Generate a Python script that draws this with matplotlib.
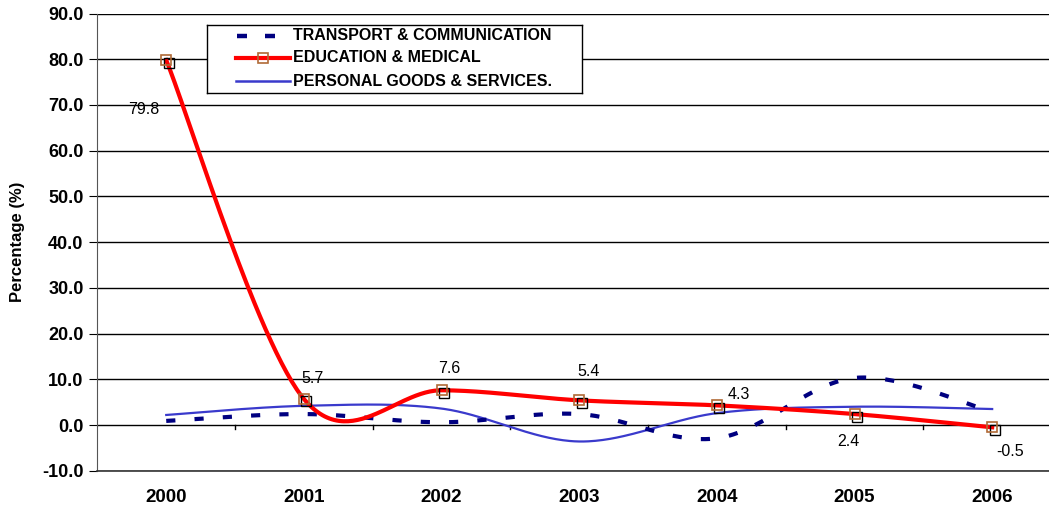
import numpy as np
import matplotlib
matplotlib.use("Agg")
import matplotlib.pyplot as plt
import matplotlib.transforms as mtransforms

years = ["2000", "2001", "2002", "2003", "2004", "2005", "2006"]
transport = [0.9, 2.4, 0.6, 2.4, -2.9, 10.3, 2.9]
education = [79.8, 5.7, 7.6, 5.4, 4.3, 2.4, -0.5]
personal = [2.2, 4.2, 3.6, -3.6, 2.6, 4.0, 3.5]
edu_labels = ["79.8", "5.7", "7.6", "5.4", "4.3", "2.4", "-0.5"]
series_names = ["TRANSPORT & COMMUNICATION", "EDUCATION & MEDICAL", "PERSONAL GOODS & SERVICES."]
yticks = [-10, 0, 10, 20, 30, 40, 50, 60, 70, 80, 90]

plt.rcParams['font.family'] = ['Liberation Sans', 'DejaVu Sans']

C_TR, C_ED, C_PE, C_MK = '#000080', '#ff0000', '#3a3acc', '#b06a36'
DASH = (0, (2.2, 4.6))


def smooth(xs, ys, n=60):
    """Excel-style smoothed line: Catmull-Rom via cubic Bezier segments."""
    P = np.column_stack([xs, ys]).astype(float)
    ext = np.vstack([P[0], P, P[-1]])
    out = []
    t = np.linspace(0, 1, n)[:, None]
    for i in range(len(P) - 1):
        p0, p1, p2, p3 = ext[i], ext[i + 1], ext[i + 2], ext[i + 3]
        c1 = p1 + (p2 - p0) / 6.0
        c2 = p2 - (p3 - p1) / 6.0
        seg = ((1 - t) ** 3) * p1 + 3 * ((1 - t) ** 2) * t * c1 + 3 * (1 - t) * t ** 2 * c2 + t ** 3 * p2
        out.append(seg if i == 0 else seg[1:])
    arr = np.vstack(out)
    return arr[:, 0], arr[:, 1]


fig = plt.figure(figsize=(10.49, 5.08), dpi=100)
W, H = 1049, 508
left_px, right_px = 97.4, 1061.0
top_px, bot_px = 13.5, 470.75
ax = fig.add_axes([left_px / W, 1 - bot_px / H, (right_px - left_px) / W, (bot_px - top_px) / H])

x = np.arange(len(years))
ax.set_xlim(-0.5, len(years) - 0.5)
ax.set_ylim(-10, 90)
ax.set_yticks(yticks)
ax.set_yticklabels([f"{v:.1f}" for v in yticks])
ax.yaxis.grid(True, color='black', lw=1.0)
ax.set_axisbelow(True)

ax.set_xticks(x)
ax.set_xticklabels(years)
ax.tick_params(axis='x', length=0, pad=13, labelsize=13.5)
ax.tick_params(axis='y', length=6, direction='out', labelsize=13, pad=4)
for lab in ax.get_xticklabels() + ax.get_yticklabels():
    lab.set_fontweight('bold')
# category boundary tick marks on the zero line
for b in np.arange(0.5, len(years) - 1, 1.0):
    ax.plot([b, b], [0, -0.8], color='black', lw=1.0, zorder=1)

for s in ['top', 'right']:
    ax.spines[s].set_visible(False)
ax.spines['left'].set_color('#555555')
ax.spines['bottom'].set_color('#333333')
ax.spines['bottom'].set_linewidth(1.2)

ax.set_ylabel("Percentage (%)", fontsize=12, fontweight='bold', labelpad=12)

xs, ys = smooth(x, personal)
ax.plot(xs, ys, color=C_PE, lw=1.6, zorder=3)
xs, ys = smooth(x, transport)
ax.plot(xs, ys, color=C_TR, lw=3.0, ls=DASH, zorder=3, dash_capstyle='butt')
xs, ys = smooth(x, education)
ax.plot(xs, ys, color=C_ED, lw=3.0, zorder=4)

shadow = mtransforms.offset_copy(ax.transData, fig=fig, x=2.5, y=-2.5, units='dots')
ax.plot(x, education, ls='none', marker='s', ms=7, mfc='none', mec='black', mew=1.0,
        transform=shadow, zorder=4.5)
ax.plot(x, education, ls='none', marker='s', ms=7, mfc='none', mec=C_MK, mew=1.2, zorder=5)

offsets = [(-22, -49), (9, 20), (8, 22), (9, 29), (22, 11), (-6, -27), (18, -24)]
for xi, yi, lab, off in zip(x, education, edu_labels, offsets):
    ax.annotate(lab, (xi, yi), xytext=off, textcoords='offset pixels',
                ha='center', va='center', fontsize=11.5, zorder=6)

# legend box (drawn manually to match the original layout)
lx0, lx1, ly0, ly1 = 207, 582, 24.5, 93
lax = fig.add_axes([lx0 / W, 1 - ly1 / H, (lx1 - lx0) / W, (ly1 - ly0) / H])
lax.set_xlim(lx0, lx1)
lax.set_ylim(ly1, ly0)
lax.set_xticks([])
lax.set_yticks([])
for s in lax.spines.values():
    s.set_color('black')
    s.set_linewidth(1.0)
lax.set_zorder(10)
rows = [35.5, 58, 81]
lax.plot([237, 275], [rows[0]] * 2, color=C_TR, lw=3.2, ls=(0, (2.25, 4.05)), dash_capstyle='butt')
lax.plot([236, 290], [rows[1]] * 2, color=C_ED, lw=3.0)
lax.plot([263], [rows[1]], marker='s', ms=7, mfc='none', mec=C_MK, mew=1.2)
lax.plot([236, 290], [rows[2]] * 2, color=C_PE, lw=1.8)
for r, name in zip(rows, series_names):
    lax.text(293, r, name, ha='left', va='center', fontsize=11.5, fontweight='bold')

fig.savefig("out.png", dpi=100)
